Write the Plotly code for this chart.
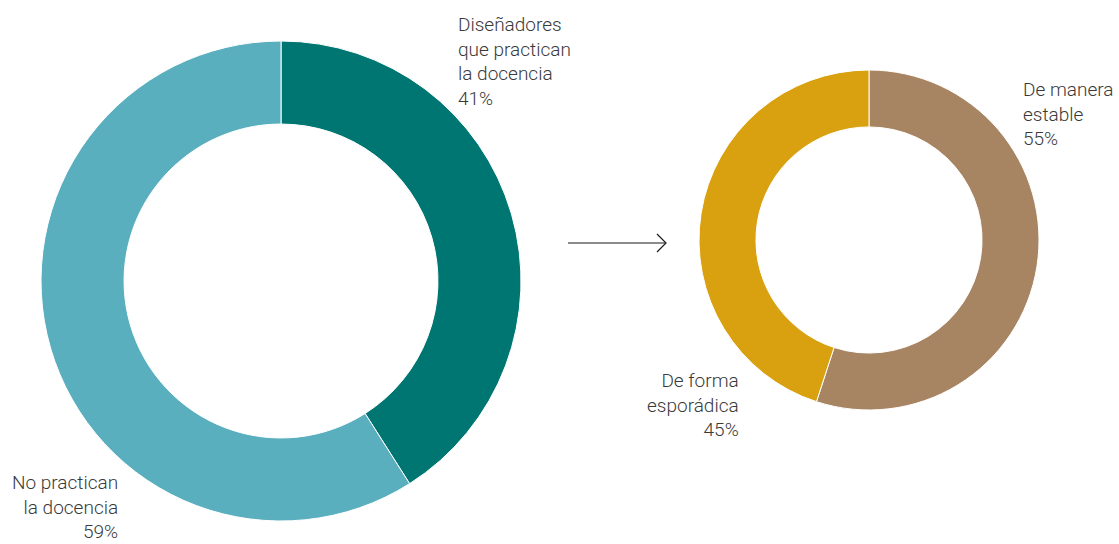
import plotly.graph_objects as go

W, H = 1119, 544

# Data
main_labels = ["Diseñadores que practican la docencia", "No practican la docencia"]
main_values = [41, 59]
main_colors = ["#007672", "#5aafbf"]

sub_labels = ["De manera estable", "De forma esporádica"]
sub_values = [55, 45]
sub_colors = ["#a78563", "#d9a00f"]

def dom(cx, cy, r):
    return dict(x=[(cx - r) / W, (cx + r) / W], y=[1 - (cy + r) / H, 1 - (cy - r) / H])

fig = go.Figure()
fig.add_trace(go.Pie(
    labels=main_labels, values=main_values, hole=0.654, sort=False,
    direction="clockwise", rotation=0, textinfo="none", hoverinfo="label+percent",
    marker=dict(colors=main_colors, line=dict(color="white", width=1)),
    domain=dom(281, 281, 240), showlegend=False))
fig.add_trace(go.Pie(
    labels=sub_labels, values=sub_values, hole=0.665, sort=False,
    direction="clockwise", rotation=0, textinfo="none", hoverinfo="label+percent",
    marker=dict(colors=sub_colors, line=dict(color="white", width=1)),
    domain=dom(869, 240, 170), showlegend=False))

font = dict(family="Roboto, Arial, sans-serif", size=19, color="#3a3a3a", weight=300)

def ann(text, x, y, xanchor, yanchor, align):
    fig.add_annotation(text=text, x=x / W, y=1 - y / H, xref="paper", yref="paper",
                       xanchor=xanchor, yanchor=yanchor, align=align, showarrow=False,
                       font=font, borderpad=0)

ann(f"Diseñadores<br>que practican<br>la docencia<br>{main_values[0]}%", 457, 12, "left", "top", "left")
ann(f"No practican<br>la docencia<br>{main_values[1]}%", 119, 544, "right", "bottom", "right")
ann(f"De forma<br>esporádica<br>{sub_values[1]}%", 740, 442, "right", "bottom", "right")
ann(f"De manera<br>estable<br>{sub_values[0]}%", 1022, 77, "left", "top", "left")

# Arrow
fig.add_shape(type="line", xref="paper", yref="paper",
              x0=568 / W, x1=665 / W, y0=1 - 243 / H, y1=1 - 243 / H,
              line=dict(color="#1a1a1a", width=1.2))
fig.add_shape(type="path", xref="paper", yref="paper",
              path=f"M {657/W} {1-234/H} L {666/W} {1-243/H} L {657/W} {1-252/H}",
              line=dict(color="#1a1a1a", width=1.2))

fig.update_layout(width=W, height=H, autosize=False,
                  margin=dict(l=0, r=0, t=0, b=0),
                  paper_bgcolor="white", plot_bgcolor="white")

fig.write_html("out.html", config={"displayModeBar": False},
               post_script="document.body.style.margin='0';document.documentElement.style.overflow='hidden';")
